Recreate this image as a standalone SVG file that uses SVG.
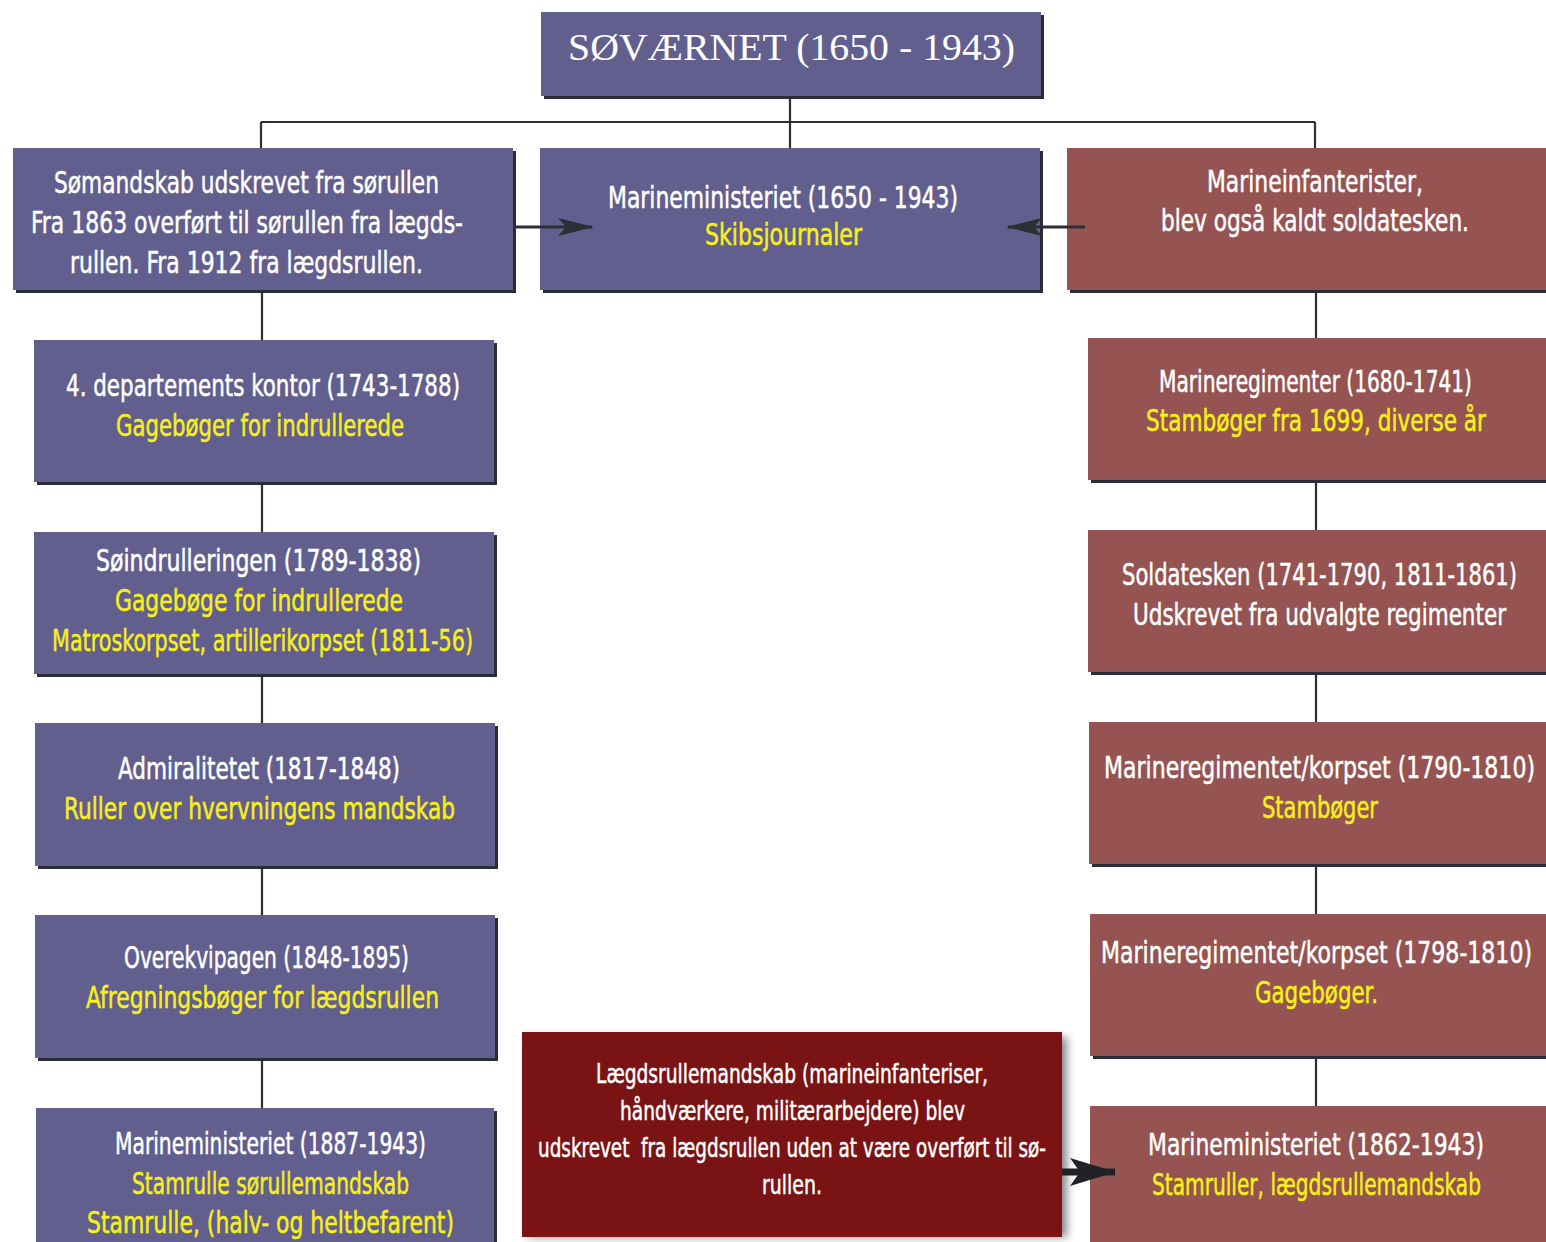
<svg xmlns="http://www.w3.org/2000/svg" width="1546" height="1242" viewBox="0 0 1546 1242">
<defs>
<style>
.blue{fill:#625f8e}
.red{fill:#955451}
.dred{fill:#7a1313}
.sh{fill:#2c2b38}
.t{font-family:"Liberation Sans Narrow","DejaVu Sans Condensed","Roboto Condensed","Liberation Sans",sans-serif;font-size:31px;fill:#ffffff;stroke:#ffffff;stroke-width:0.5}
.y{fill:#f7f01c;stroke:#f7f01c}
.s{font-size:27px}
.title{font-family:"Liberation Serif","DejaVu Serif",serif;font-size:38px;fill:#ffffff}
.ln{stroke:#2e2e36;stroke-width:2.2;fill:none}
.ar{stroke:#2e2e36;stroke-width:3;fill:none}
</style>
<marker id="ah" viewBox="0 0 36 18" refX="34" refY="9" markerWidth="36" markerHeight="18" markerUnits="userSpaceOnUse" orient="auto">
<path d="M0,0 L36,9 L0,18 L8,9 z" fill="#2e2e36"/>
</marker>
<marker id="ah2" viewBox="0 0 46 28" refX="45" refY="14" markerWidth="46" markerHeight="28" markerUnits="userSpaceOnUse" orient="auto">
<path d="M0,0 L46,14 L0,28 L10,14 z" fill="#222226"/>
</marker>
<filter id="blur" x="-10%" y="-10%" width="130%" height="130%">
<feGaussianBlur stdDeviation="4"/>
</filter>
</defs>
<rect width="1546" height="1242" fill="#ffffff"/>

<g id="title">
<rect class="sh" x="544" y="15" width="500" height="84"/>
<rect class="blue" x="541" y="12" width="500" height="84"/>
<text class="title" x="568" y="60" textLength="447" lengthAdjust="spacingAndGlyphs">SØVÆRNET (1650 - 1943)</text>
</g>

<g id="n-somandskab">
<rect class="sh" x="16" y="151" width="500" height="142"/>
<rect class="blue" x="13" y="148" width="500" height="142"/>
<text class="t" x="54" y="193" textLength="385" lengthAdjust="spacingAndGlyphs">Sømandskab udskrevet fra sørullen</text>
<text class="t" x="31" y="233" textLength="432" lengthAdjust="spacingAndGlyphs">Fra 1863 overført til sørullen fra lægds-</text>
<text class="t" x="70" y="273" textLength="353" lengthAdjust="spacingAndGlyphs">rullen. Fra 1912 fra lægdsrullen.</text>
</g>

<g id="n-marineministeriet">
<rect class="sh" x="543" y="151" width="500" height="142"/>
<rect class="blue" x="540" y="148" width="500" height="142"/>
<text class="t" x="608" y="208" textLength="350" lengthAdjust="spacingAndGlyphs">Marineministeriet (1650 - 1943)</text>
<text class="t y" x="705" y="245" textLength="157" lengthAdjust="spacingAndGlyphs">Skibsjournaler</text>
</g>

<g id="n-marineinfanterister">
<rect class="sh" x="1070" y="151" width="476" height="142"/>
<rect class="red" x="1067" y="148" width="479" height="142"/>
<text class="t" x="1207" y="192" textLength="216" lengthAdjust="spacingAndGlyphs">Marineinfanterister,</text>
<text class="t" x="1161" y="231" textLength="308" lengthAdjust="spacingAndGlyphs">blev også kaldt soldatesken.</text>
</g>

<g id="n-departements">
<rect class="sh" x="37" y="343" width="460" height="142"/>
<rect class="blue" x="34" y="340" width="460" height="142"/>
<text class="t" x="66" y="396" textLength="394" lengthAdjust="spacingAndGlyphs">4. departements kontor (1743-1788)</text>
<text class="t y" x="116" y="436" textLength="288" lengthAdjust="spacingAndGlyphs">Gagebøger for indrullerede</text>
</g>

<g id="n-soindrulleringen">
<rect class="sh" x="37" y="535" width="460" height="142"/>
<rect class="blue" x="34" y="532" width="460" height="142"/>
<text class="t" x="96" y="571" textLength="325" lengthAdjust="spacingAndGlyphs">Søindrulleringen (1789-1838)</text>
<text class="t y" x="115" y="611" textLength="288" lengthAdjust="spacingAndGlyphs">Gagebøge for indrullerede</text>
<text class="t y" x="52" y="651" textLength="421" lengthAdjust="spacingAndGlyphs">Matroskorpset, artillerikorpset (1811-56)</text>
</g>

<g id="n-admiralitetet">
<rect class="sh" x="38" y="726" width="460" height="143"/>
<rect class="blue" x="35" y="723" width="460" height="143"/>
<text class="t" x="118" y="779" textLength="282" lengthAdjust="spacingAndGlyphs">Admiralitetet (1817-1848)</text>
<text class="t y" x="64" y="819" textLength="391" lengthAdjust="spacingAndGlyphs">Ruller over hvervningens mandskab</text>
</g>

<g id="n-overekvipagen">
<rect class="sh" x="38" y="918" width="460" height="143"/>
<rect class="blue" x="35" y="915" width="460" height="143"/>
<text class="t" x="124" y="968" textLength="285" lengthAdjust="spacingAndGlyphs">Overekvipagen (1848-1895)</text>
<text class="t y" x="86" y="1008" textLength="353" lengthAdjust="spacingAndGlyphs">Afregningsbøger for lægdsrullen</text>
</g>

<g id="n-marineministeriet-1887">
<rect class="sh" x="39" y="1111" width="458" height="131"/>
<rect class="blue" x="36" y="1108" width="458" height="134"/>
<text class="t" x="115" y="1154" textLength="311" lengthAdjust="spacingAndGlyphs">Marineministeriet (1887-1943)</text>
<text class="t y" x="132" y="1194" textLength="277" lengthAdjust="spacingAndGlyphs">Stamrulle sørullemandskab</text>
<text class="t y" x="87" y="1233" textLength="367" lengthAdjust="spacingAndGlyphs">Stamrulle, (halv- og heltbefarent)</text>
</g>

<g id="n-marineregimenter">
<rect class="sh" x="1091" y="341" width="455" height="142"/>
<rect class="red" x="1088" y="338" width="458" height="142"/>
<text class="t" x="1159" y="392" textLength="313" lengthAdjust="spacingAndGlyphs">Marineregimenter (1680-1741)</text>
<text class="t y" x="1146" y="431" textLength="340" lengthAdjust="spacingAndGlyphs">Stambøger fra 1699, diverse år</text>
</g>

<g id="n-soldatesken">
<rect class="sh" x="1091" y="533" width="455" height="142"/>
<rect class="red" x="1088" y="530" width="458" height="142"/>
<text class="t" x="1122" y="585" textLength="395" lengthAdjust="spacingAndGlyphs">Soldatesken (1741-1790, 1811-1861)</text>
<text class="t" x="1133" y="625" textLength="373" lengthAdjust="spacingAndGlyphs">Udskrevet fra udvalgte regimenter</text>
</g>

<g id="n-marineregimentet-1790">
<rect class="sh" x="1092" y="725" width="454" height="142"/>
<rect class="red" x="1089" y="722" width="457" height="142"/>
<text class="t" x="1104" y="778" textLength="431" lengthAdjust="spacingAndGlyphs">Marineregimentet/korpset (1790-1810)</text>
<text class="t y" x="1262" y="818" textLength="116" lengthAdjust="spacingAndGlyphs">Stambøger</text>
</g>

<g id="n-marineregimentet-1798">
<rect class="sh" x="1093" y="917" width="453" height="142"/>
<rect class="red" x="1090" y="914" width="456" height="142"/>
<text class="t" x="1101" y="963" textLength="431" lengthAdjust="spacingAndGlyphs">Marineregimentet/korpset (1798-1810)</text>
<text class="t y" x="1255" y="1003" textLength="123" lengthAdjust="spacingAndGlyphs">Gagebøger.</text>
</g>

<g id="n-marineministeriet-1862">
<rect class="sh" x="1093" y="1109" width="453" height="133"/>
<rect class="red" x="1090" y="1106" width="456" height="136"/>
<text class="t" x="1148" y="1155" textLength="336" lengthAdjust="spacingAndGlyphs">Marineministeriet (1862-1943)</text>
<text class="t y" x="1152" y="1195" textLength="329" lengthAdjust="spacingAndGlyphs">Stamruller, lægdsrullemandskab</text>
</g>

<g id="n-laegdsrullemandskab">
<rect x="527" y="1037" width="540" height="200" fill="#555" opacity="0.7" filter="url(#blur)"/>
<rect class="dred" x="522" y="1032" width="540" height="205"/>
<text class="t s" x="596" y="1083" textLength="392" lengthAdjust="spacingAndGlyphs">Lægdsrullemandskab (marineinfanteriser,</text>
<text class="t s" x="620" y="1120" textLength="345" lengthAdjust="spacingAndGlyphs">håndværkere, militærarbejdere) blev</text>
<text class="t s" x="538" y="1157" textLength="508" lengthAdjust="spacingAndGlyphs" xml:space="preserve">udskrevet  fra lægdsrullen uden at være overført til sø-</text>
<text class="t s" x="762" y="1194" textLength="60" lengthAdjust="spacingAndGlyphs">rullen.</text>
</g>

<g id="connectors">
<path class="ln" d="M790 99 V122 M261 122 H1315 M261 122 V148 M790 122 V148 M1315 122 V148"/>
<path class="ln" d="M262 293 V340 M262 485 V532 M262 677 V723 M262 869 V915 M262 1061 V1108"/>
<path class="ln" d="M1316 293 V338 M1316 483 V530 M1316 675 V722 M1316 867 V914 M1316 1059 V1106"/>
<path class="ar" d="M513 227 H592" marker-end="url(#ah)"/>
<path class="ar" d="M1085 227 H1008" marker-end="url(#ah)"/>
<path d="M1062 1172 H1115" stroke="#222226" stroke-width="7" marker-end="url(#ah2)"/>
</g>
</svg>
